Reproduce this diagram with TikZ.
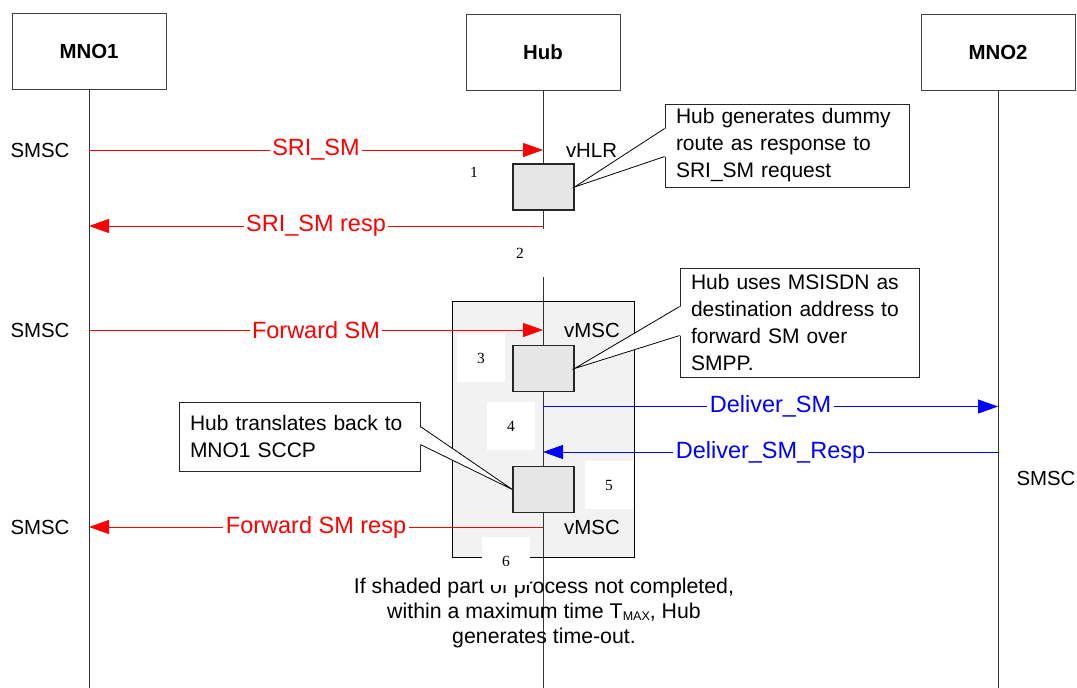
\documentclass[tikz,border=0pt]{standalone}
\usepackage{fontspec}
\setmainfont{Liberation Sans}
\newfontfamily\numfont{Liberation Serif}
\usetikzlibrary{arrows.meta,calc}
\definecolor{shadegray}{HTML}{F2F2F2}
\definecolor{procgray}{HTML}{E6E6E6}
\begin{document}
\begin{tikzpicture}[x=1pt,y=-1pt,
  entity/.style={draw=black!75, line width=0.8pt, minimum width=154pt, minimum height=76pt,
    inner sep=0pt, font=\fontsize{20.4}{24}\selectfont\bfseries},
  life/.style={draw=black!80, line width=0.8pt},
  msgred/.style={draw=red, line width=0.9pt, -{Triangle[length=20pt,width=14pt]}},
  msgblue/.style={draw=blue, line width=0.9pt, -{Triangle[length=20pt,width=14pt]}},
  msglbl/.style={fill=white, inner xsep=2.5pt, inner ysep=1pt, font=\fontsize{23.5}{26}\selectfont},
  plain/.style={inner sep=0pt, font=\fontsize{20.4}{24}\selectfont},
  procbox/.style={draw=black!85, line width=1.2pt, fill=procgray, minimum width=61pt, minimum height=46pt, inner sep=0pt},
  numbox/.style={fill=white, minimum size=48pt, inner sep=0pt, font=\numfont\fontsize{15.5}{16}\selectfont},
  callout/.style={draw=black!85, line width=0.9pt, fill=white, inner xsep=11pt, inner ysep=0pt,
    align=left, font=\fontsize{21}{27}\selectfont},
  callline/.style={draw=black, line width=0.8pt},
  shaded/.style={draw=black, line width=0.9pt, fill=shadegray, minimum width=182pt, minimum height=256pt, inner sep=0pt}
]
\useasboundingbox (0,0) rectangle (1077,688);
\coordinate (bottom) at (0,688);

% shaded part of process
\node[shaded] (tmax) at (543,429) {};

% entities
\node[entity] (mno1) at (89,51.5) {MNO1};
\node[entity] (hub) at (543,52) {Hub};
\node[entity] (mno2) at (998,52) {MNO2};

% lifelines
\draw[life] (mno1.south) -- (mno1.south |- bottom);
\draw[life] (hub.south) -- (hub.south |- bottom);
\draw[life] (mno2.south) -- (mno2.south |- bottom);

% step numbers
\node[inner sep=0pt, font=\numfont\fontsize{15.5}{16}\selectfont] (n1) at (474,172) {1};
\node[numbox] (n2) at (520,253) {2};
\node[numbox] (n3) at (481,358) {3};
\node[numbox] (n4) at (511,426) {4};
\node[numbox] (n5) at (609,485) {5};

% message anchor points
\coordinate (y1) at (0,150);
\coordinate (y2) at (0,226);
\coordinate (y3) at (0,330);
\coordinate (y4) at (0,406.5);
\coordinate (y5) at (0,452);
\coordinate (y6) at (0,527);

% messages
\draw[msgred] (mno1 |- y1) -- node[msglbl, text=red] (l1) {SRI\_SM} (hub |- y1);
\draw[msgred] (hub |- y2) -- node[msglbl, text=red] (l2) {SRI\_SM resp} (mno1 |- y2);
\draw[msgred] (mno1 |- y3) -- node[msglbl, text=red] (l3) {Forward SM} (hub |- y3);
\draw[msgblue] (hub |- y4) -- node[msglbl, text=blue] (l4) {Deliver\_SM} (mno2 |- y4);
\draw[msgblue] (mno2 |- y5) -- node[msglbl, text=blue] (l5) {Deliver\_SM\_Resp} (hub |- y5);
\draw[msgred] (hub |- y6) -- node[msglbl, text=red] (l6) {Forward SM resp} (mno1 |- y6);

% processing boxes
\node[procbox] (g1) at (543.5,187) {};
\node[procbox] (g2) at (543.5,368.5) {};
\node[procbox] (g3) at (543.5,489.5) {};

% side labels
\node[plain] (s1) at (40,150) {SMSC};
\node[plain] (s2) at (40,330) {SMSC};
\node[plain] (s3) at (40,527) {SMSC};
\node[plain] (s4) at (1046,478) {SMSC};
\node[plain] (v1) at (591.5,150) {vHLR};
\node[plain] (v2) at (592,330) {vMSC};
\node[plain] (v3) at (592,527) {vMSC};

% callouts
\node[callout, minimum width=244pt, minimum height=83pt, text width=222pt] (c1) at (787,145.5)
  {Hub generates dummy\\route as response to\\SRI\_SM request};
\coordinate (c1a) at ($(c1.north west)+(0,25)$);
\coordinate (c1b) at ($(c1.north west)+(0,53)$);
\fill[white] ($(c1a)+(1.2,0)$) -- (g1.east) -- ($(c1b)+(1.2,0)$) -- cycle;
\draw[callline] (c1a) -- (g1.east) -- (c1b);

\node[callout, minimum width=239pt, minimum height=109pt, text width=217pt] (c2) at (799.5,322.5)
  {Hub uses MSISDN as\\destination address to\\forward SM over\\SMPP.};
\coordinate (c2a) at ($(c2.north west)+(0,39)$);
\coordinate (c2b) at ($(c2.north west)+(0,68)$);
\fill[white] ($(c2a)+(1.2,0)$) -- (g2.east) -- ($(c2b)+(1.2,0)$) -- cycle;
\draw[callline] (c2a) -- (g2.east) -- (c2b);

\node[callout, minimum width=241pt, minimum height=69pt, text width=219pt] (c3) at (299.5,436.5)
  {Hub translates back to\\MNO1 SCCP};
\coordinate (c3a) at ($(c3.north east)+(0,25)$);
\coordinate (c3b) at ($(c3.north east)+(0,43)$);
\fill[white] ($(c3a)+(-1.2,0)$) -- (g3.west) -- ($(c3b)+(-1.2,0)$) -- cycle;
\draw[callline] (c3a) -- (g3.west) -- (c3b);

% time-out note
\node[align=center, inner sep=0pt, font=\fontsize{21.3}{25}\selectfont] (note) at (544,613)
  {If shaded part of process not completed,\\
   within a maximum time T\raisebox{-2pt}{\fontsize{12.5}{13}\selectfont MAX}, Hub\\
   generates time-out.};

\node[numbox] (n6) at (506,561) {6};
\end{tikzpicture}
\end{document}
